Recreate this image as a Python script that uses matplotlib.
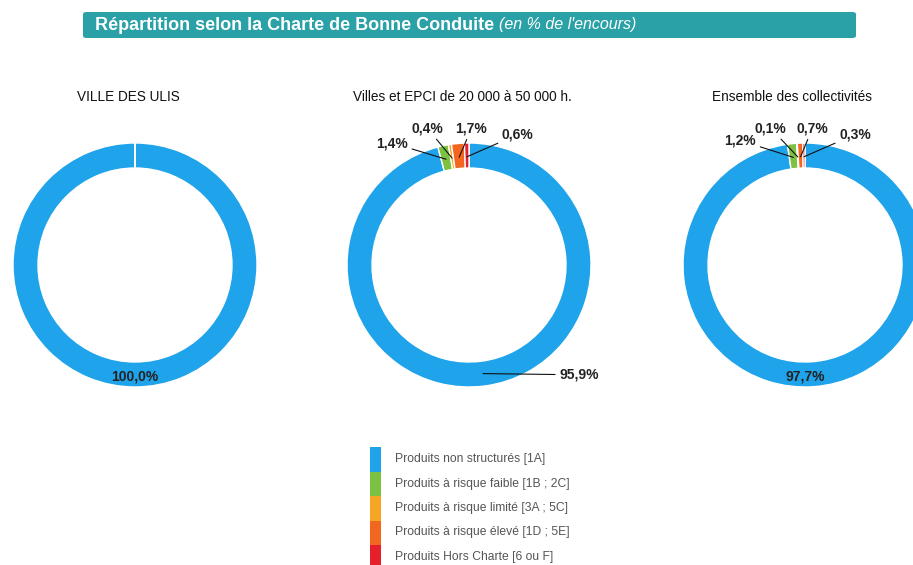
import numpy as np
import matplotlib.pyplot as plt
from matplotlib.patches import FancyBboxPatch, Rectangle

plt.rcParams['font.family'] = ['Liberation Sans', 'DejaVu Sans']

# ------------------ DATA ------------------

categories = [
    "Produits non structurés [1A]",
    "Produits à risque faible [1B ; 2C]",
    "Produits à risque limité [3A ; 5C]",
    "Produits à risque élevé [1D ; 5E]",
    "Produits Hors Charte [6 ou F]",
]
colors = ["#1FA3EA", "#7DC142", "#F5A623", "#F2661F", "#E5202A"]

panel_titles = ["VILLE DES ULIS",
                "Villes et EPCI de 20 000 à 50 000 h.",
                "Ensemble des collectivités"]
ulis_values     = [100.0, 0.0, 0.0, 0.0, 0.0]
strate_values   = [95.9, 1.4, 0.4, 1.7, 0.6]
ensemble_values = [97.7, 1.2, 0.1, 0.7, 0.3]

# ------------------ LAYOUT ------------------

W, H = 913, 565
fig = plt.figure(figsize=(W / 100, H / 100), dpi=100)
fig.patch.set_facecolor("white")

# title banner
banner = FancyBboxPatch((83 / W, 1 - 38 / H), (856 - 83) / W, 26 / H,
                        boxstyle="round,pad=0,rounding_size=0.004",
                        transform=fig.transFigure, facecolor="#2AA1A7",
                        edgecolor="none")
fig.patches.append(banner)
t1 = fig.text(95 / W, 1 - 25 / H, "Répartition selon la Charte de Bonne Conduite",
              color="white", fontsize=13, fontweight="bold", va="center")
fig.canvas.draw()
bb = t1.get_window_extent()
fig.text(bb.x1 / W + 5 / W, 1 - 25 / H, "(en % de l'encours)",
         color="white", fontsize=11.5, fontstyle="italic", va="center")

R = 122
centers = [(135, 265), (469, 265), (805, 265)]
title_x = [128, 462, 792]
RING = 0.205


def make_donut(cx, cy, values):
    ax = fig.add_axes([(cx - R) / W, (H - cy - R) / H, 2 * R / W, 2 * R / H])
    wedges, _ = ax.pie(values, colors=colors, startangle=90, counterclock=False,
                       radius=1.0, wedgeprops=dict(width=RING, edgecolor="white",
                                                   linewidth=1.0))
    ax.set_xlim(-1, 1)
    ax.set_ylim(-1, 1)
    ax.set_aspect("equal")
    ax.axis("off")
    return ax, wedges


def mid_point(w, r=1 - RING / 2):
    a = np.radians((w.theta1 + w.theta2) / 2)
    return r * np.cos(a), r * np.sin(a)


label_kw = dict(fontsize=10, fontweight="bold", color="#222222")

# left: Les Ulis
ax0, w0 = make_donut(*centers[0], ulis_values)
ax0.plot([0, 0], [1 - RING, 1], color="white", lw=1.2)
ax0.text(0, -1 + RING / 2 - 0.02, f"{ulis_values[0]:.1f}%".replace(".", ","),
         ha="center", va="center", **label_kw)

# middle and right with leader lines
small_pos = {
    1: [(-0.50, 1.00), (-0.34, 1.12), (0.02, 1.12), (0.27, 1.07)],
    2: [(-0.40, 1.02), (-0.28, 1.12), (0.06, 1.12), (0.28, 1.07)],
}
for k, vals in [(1, strate_values), (2, ensemble_values)]:
    ax, wedges = make_donut(*centers[k], vals)
    for i in range(1, 5):
        lx, ly = small_pos[k][i - 1]
        px, py = mid_point(wedges[i], 1 - RING * 0.55)
        ha = "right" if i == 1 else ("left" if i == 4 else "center")
        ax.annotate(f"{vals[i]:.1f}%".replace(".", ","), xy=(px, py),
                    xytext=(lx, ly), ha=ha, va="center",
                    arrowprops=dict(arrowstyle="-", color="#111111", lw=0.8,
                                    shrinkA=1, shrinkB=0),
                    annotation_clip=False, **label_kw)
    if k == 1:
        px, py = mid_point(wedges[0])
        ax.annotate(f"{vals[0]:.1f}%".replace(".", ","), xy=(px, py),
                    xytext=(0.74, -0.90), ha="left", va="center",
                    arrowprops=dict(arrowstyle="-", color="#111111", lw=0.8,
                                    shrinkA=1, shrinkB=0),
                    annotation_clip=False, **label_kw)
    else:
        ax.text(0, -1 + RING / 2 - 0.02, f"{vals[0]:.1f}%".replace(".", ","),
                ha="center", va="center", **label_kw)

for x, t in zip(title_x, panel_titles):
    fig.text(x / W, 1 - 97 / H, t, ha="center", va="center", fontsize=9.8,
             color="#111111")

# legend
for i, (c, lab) in enumerate(zip(colors, categories)):
    y0 = 447 + i * 24.5
    fig.patches.append(Rectangle((370 / W, 1 - (y0 + 24.5) / H), 11 / W, 24.5 / H,
                                 transform=fig.transFigure, facecolor=c,
                                 edgecolor="none"))
    fig.text(395 / W, 1 - (y0 + 12) / H, lab, fontsize=8.7, color="#555555",
             va="center")

fig.savefig("out.png", dpi=100)
